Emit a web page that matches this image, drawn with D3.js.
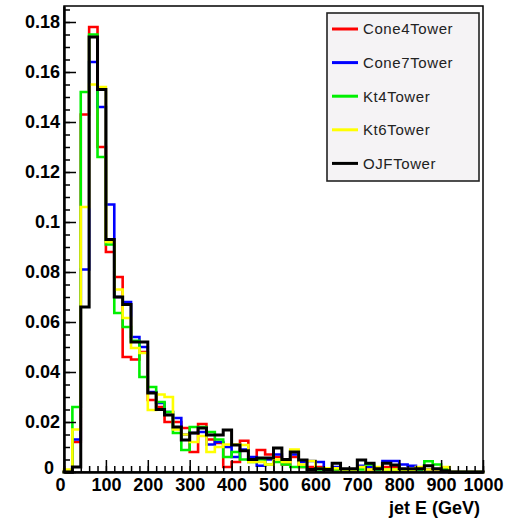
<!DOCTYPE html>
<html><head><meta charset="utf-8">
<script src="https://cdn.jsdelivr.net/npm/d3@7"></script>
<style>body{margin:0;background:#fff}svg{display:block}text{font-family:"Liberation Sans",Arial,Helvetica,sans-serif}</style>
</head><body><svg id="c" width="515" height="521"></svg>
<script>
// bins: 20 GeV wide from 0 to 1000
const binEdges = d3.range(0, 1001, 20);
const seriesNames = ["Cone4Tower","Cone7Tower","Kt4Tower","Kt6Tower","OJFTower"];
const seriesColors = ["#ff0000","#0000ff","#00f000","#ffff00","#000000"];
const cone4 = [0,0.012,0.143,0.178,0.130,0.088,0.078,0.046,0.045,0.048,0.0288,0.026,0.020,0.020,0.0176,0.008,0.0192,0.013,0.0116,0.002,0.004,0.0125,0.005,0.0088,0.007,0.006,0.003,0.006,0.002,0.002,0.002,0.001,0.001,0.001,0.001,0.002,0.001,0.001,0.002,0.002,0.001,0.001,0.001,0.001,0.001,0.001,0,0,0,0];
const cone7 = [0,0.013,0.081,0.164,0.146,0.107,0.070,0.068,0.054,0.050,0.032,0.0276,0.024,0.0216,0.015,0.0156,0.016,0.011,0.012,0.010,0.006,0.009,0.006,0.0025,0.005,0.007,0.005,0.007,0.004,0.0044,0.004,0.0015,0.002,0.001,0.001,0.0025,0.002,0.001,0.0044,0.0044,0.003,0.0025,0.001,0.001,0.001,0,0,0,0,0];
const kt4 = [0,0.026,0.152,0.175,0.126,0.091,0.0636,0.058,0.0525,0.038,0.034,0.028,0.024,0.0156,0.0088,0.018,0.018,0.016,0.013,0.006,0.008,0.005,0.004,0.005,0.003,0.004,0.003,0.002,0.002,0.001,0.001,0.001,0.001,0.001,0.001,0.001,0.003,0.001,0.001,0.001,0.001,0.001,0.001,0.0043,0.003,0.001,0,0,0,0];
const kt6 = [0.001,0.017,0.106,0.155,0.154,0.092,0.073,0.0616,0.0496,0.0476,0.0248,0.031,0.030,0.017,0.015,0.012,0.0144,0.008,0.010,0.011,0.011,0.0108,0.004,0.004,0.003,0.005,0.004,0.009,0.003,0.0044,0.0015,0.0015,0.0015,0.001,0.001,0.002,0.001,0.002,0.001,0.001,0.001,0.001,0.002,0.001,0.001,0.002,0,0,0,0];
const ojf = [0,0.002,0.066,0.174,0.153,0.093,0.070,0.067,0.052,0.052,0.0316,0.025,0.0228,0.018,0.0128,0.0156,0.0176,0.0148,0.0148,0.0168,0.0108,0.0085,0.005,0.0056,0.0056,0.0096,0.005,0.008,0.0048,0.001,0.0013,0.001,0.0035,0.0013,0.0013,0.0048,0.0035,0.0013,0.0035,0.0028,0.0013,0.0013,0.0013,0.0025,0.0013,0.0005,0,0,0,0];
const seriesValues = [cone4, cone7, kt4, kt6, ojf];
const xTickValues = [0,100,200,300,400,500,600,700,800,900,1000];
const xTickLabels = ["0","100","200","300","400","500","600","700","800","900","1000"];
const yTickValues = [0,0.02,0.04,0.06,0.08,0.1,0.12,0.14,0.16,0.18];
const yTickLabels = ["0","0.02","0.04","0.06","0.08","0.1","0.12","0.14","0.16","0.18"];
const xTitle = "jet E (GeV)";

const svg = d3.select("#c");
const L = 64, R = 483, T = 6, B = 472;
const x = d3.scaleLinear().domain([0, 1000]).range([L, R]);
const y = d3.scaleLinear().domain([0, 0.1864]).range([B, T]);

// histograms
const line = d3.line().x(d => x(d[0])).y(d => y(d[1]));
seriesValues.forEach((vals, si) => {
  const pts = [[binEdges[0], 0]];
  vals.forEach((v, i) => { pts.push([binEdges[i], v]); pts.push([binEdges[i+1], v]); });
  pts.push([binEdges[binEdges.length-1], 0]);
  svg.append("path").attr("d", line(pts)).attr("fill", "none")
    .attr("stroke", seriesColors[si]).attr("stroke-width", si === 4 ? 3 : 2.6)
    .attr("stroke-linejoin", "miter").attr("stroke-linecap", "square");
});

// frame
svg.append("rect").attr("x", L).attr("y", T).attr("width", R - L).attr("height", B - T)
  .attr("fill", "none").attr("stroke", "#000").attr("stroke-width", 1.5);

// y axis
const yMinor = d3.range(0, 0.1864, 0.005);
const gyMinor = svg.append("g").attr("transform", `translate(${L},0)`)
  .call(d3.axisLeft(y).tickValues(yMinor).tickSizeInner(-6).tickSizeOuter(0).tickFormat(""));
const gy = svg.append("g").attr("transform", `translate(${L},0)`)
  .call(d3.axisLeft(y).tickValues(yTickValues).tickSizeInner(-12).tickSizeOuter(0).tickPadding(4)
    .tickFormat((d, i) => yTickLabels[i]));
// x axis
const xMinor = d3.range(0, 1001, 20);
const gxMinor = svg.append("g").attr("transform", `translate(0,${B})`)
  .call(d3.axisBottom(x).tickValues(xMinor).tickSizeInner(-6).tickSizeOuter(0).tickFormat(""));
const gx = svg.append("g").attr("transform", `translate(0,${B})`)
  .call(d3.axisBottom(x).tickValues(xTickValues).tickSizeInner(-12).tickSizeOuter(0).tickPadding(6)
    .tickFormat((d, i) => xTickLabels[i]));
[gyMinor, gy, gxMinor, gx].forEach(g => {
  g.selectAll(".domain").attr("stroke", "#000").attr("stroke-width", 2);
  g.selectAll(".tick line").attr("stroke", "#000").attr("stroke-width", 1.5);
  g.selectAll("text").attr("font-family", "Liberation Sans, Arial, sans-serif")
    .attr("font-size", 18).attr("font-weight", "bold").attr("fill", "#000");
});
gx.selectAll(".tick text").filter((d, i) => i === 0).attr("dx", -4);
gy.selectAll(".tick text").filter((d, i) => i === 0).attr("dx", -6).attr("dy", "0.1em");

svg.append("text").attr("x", 480).attr("y", 514).attr("text-anchor", "end")
  .attr("font-size", 18).attr("font-weight", "bold").text(xTitle);

// legend
const lg = svg.append("g");
lg.append("rect").attr("x", 327).attr("y", 13).attr("width", 152).attr("height", 168)
  .attr("fill", "#f5f3f5").attr("stroke", "#222").attr("stroke-width", 1.6);
seriesNames.forEach((n, i) => {
  const cy = 29 + i * 33.6;
  lg.append("line").attr("x1", 332).attr("x2", 358).attr("y1", cy).attr("y2", cy)
    .attr("stroke", seriesColors[i]).attr("stroke-width", 3);
  lg.append("text").attr("x", 363).attr("y", cy).attr("dy", "0.36em")
    .attr("font-size", 15).attr("letter-spacing", "0.6").attr("fill", "#222").text(n);
});
</script></body></html>
